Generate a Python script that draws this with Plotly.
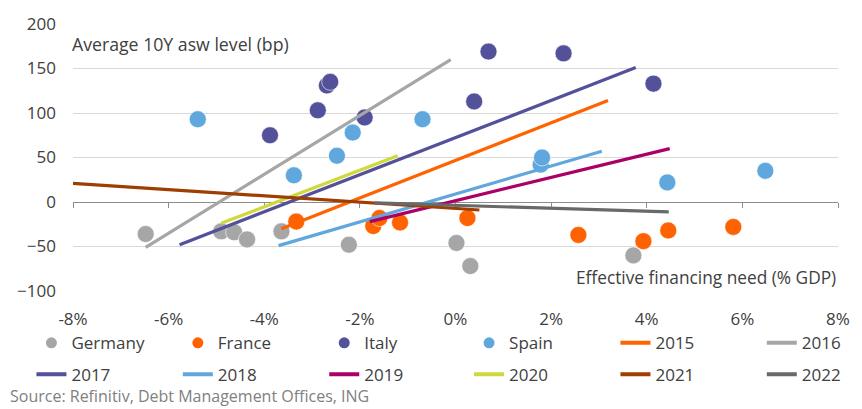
import plotly.graph_objects as go

# ---- data ----
germany_x = [-6.48, -4.90, -4.63, -4.36, -3.64, -2.23, 0.02, 0.31, 3.72]
germany_y = [-36, -33, -34, -42, -33, -48, -46, -72, -60]

france_x = [-3.33, -1.72, -1.59, -1.16, 0.25, 2.57, 3.93, 4.45, 5.81]
france_y = [-22, -27, -18, -23, -18, -37, -44, -32, -28]

italy_x = [-3.88, -2.88, -2.69, -2.62, -1.90, 0.39, 0.69, 2.26, 4.14]
italy_y = [75, 103, 131, 135, 95, 113, 169, 167, 133]

spain_x = [-5.39, -3.38, -2.48, -2.15, -0.69, 1.78, 1.81, 4.43, 6.48]
spain_y = [93, 30, 52, 78, 93, 42, 50, 22, 35]

years = ["2015", "2016", "2017", "2018", "2019", "2020", "2021", "2022"]
line_x_start = [-3.64, -6.48, -5.77, -3.70, -1.79, -4.90, -8.00, -1.69]
line_y_start = [-30, -51, -48, -49, -22, -24, 21, -1]
line_x_end = [3.19, -0.10, 3.77, 3.06, 4.48, -1.21, 0.50, 4.46]
line_y_end = [114, 160, 151, 57, 60, 52, -9, -11]

x_ticks = [-8, -6, -4, -2, 0, 2, 4, 6, 8]
x_tick_labels = ["-8%", "-6%", "-4%", "-2%", "0%", "2%", "4%", "6%", "8%"]
y_ticks = [-100, -50, 0, 50, 100, 150, 200]

country_names = ["Germany", "France", "Italy", "Spain"]
country_colors = ["#A6A6A6", "#FF6200", "#525199", "#5FA7DC"]
year_colors = ["#FF6200", "#A6A6A6", "#525199", "#5FA7DC", "#AB0066", "#D0D93C", "#9E3E00", "#696969"]

# ---- layout geometry ----
W, H = 862, 409
ML, MR, MT, MB = 73, 16, 20, 118
PW, PH = W - ML - MR, H - MT - MB
x_range = [-8, 8]
y_range = [-100, 200]

def px_x(p):
    return (p - ML) / PW

def px_y(p):
    return (H - MB - p) / PH

FONT = "Open Sans"
TXT = "#404040"

fig = go.Figure()

country_data = [(germany_x, germany_y), (france_x, france_y), (italy_x, italy_y), (spain_x, spain_y)]
for name, col, (xs, ys) in zip(country_names, country_colors, country_data):
    fig.add_trace(go.Scatter(
        x=xs, y=ys, mode="markers", name=name, showlegend=False,
        marker=dict(size=17, color=col, line=dict(width=0.6, color="white")),
    ))

for yr, col, x0, y0, x1, y1 in zip(years, year_colors, line_x_start, line_y_start, line_x_end, line_y_end):
    fig.add_trace(go.Scatter(
        x=[x0, x1], y=[y0, y1], mode="lines", name=yr, showlegend=False,
        line=dict(color=col, width=3.2),
    ))

# legend: 2 rows x 6 columns; each row split into columns 1-3, 4-5 and 6
COL_STEP = 146.4
LX0 = 31
ROW1, ROW2 = 344, 376
col_groups = [(0, 3), (3, 5), (5, 6)]
group_nudge = [0, 3, 6]
legend_entries = [("marker", n, c) for n, c in zip(country_names, country_colors)] + \
                 [("line", y, c) for y, c in zip(years, year_colors)]

legend_layout = {}
for k, (kind, name, col) in enumerate(legend_entries):
    row, column = divmod(k, 6)
    group = next(g for g, (a, b) in enumerate(col_groups) if a <= column < b)
    lid = "legend" if (row == 0 and group == 0) else f"legend{row * 3 + group + 1}"
    if lid not in legend_layout:
        first_col = col_groups[group][0]
        last = group == len(col_groups) - 1
        legend_layout[lid] = dict(
            orientation="h", entrywidth=42 if last else COL_STEP - 45, entrywidthmode="pixels",
            font=dict(family=FONT, size=17, color=TXT),
            bgcolor="rgba(0,0,0,0)", xanchor="left", yanchor="middle",
            itemclick=False, itemdoubleclick=False,
            x=px_x(LX0 + first_col * COL_STEP + group_nudge[group]),
            y=px_y(ROW1 if row == 0 else ROW2),
        )
    if kind == "marker":
        fig.add_trace(go.Scatter(x=[None], y=[None], mode="markers", name=name,
                                 marker=dict(size=11, color=col), legend=lid))
    else:
        fig.add_trace(go.Scatter(x=[None], y=[None], mode="lines", name=name,
                                 line=dict(color=col, width=4), legend=lid))

# invisible trace on the zero-line axis so it is drawn
fig.add_trace(go.Scatter(x=x_range, y=[None, None], xaxis="x2", mode="lines",
                         showlegend=False, hoverinfo="skip"))

zero_pos = (0 - y_range[0]) / (y_range[1] - y_range[0])

fig.update_layout(
    width=W, height=H,
    margin=dict(l=ML, r=MR, t=MT, b=MB),
    paper_bgcolor="white", plot_bgcolor="white",
    font=dict(family=FONT, size=17, color=TXT),
    xaxis=dict(range=x_range, tickvals=x_ticks, ticktext=x_tick_labels,
               showgrid=False, zeroline=False, showline=False, ticks="",
               ticklabelstandoff=16, tickfont=dict(size=17, color=TXT)),
    xaxis2=dict(range=x_range, overlaying="x", anchor="free", position=zero_pos,
                side="bottom", tickvals=x_ticks, showticklabels=False,
                showline=True, linecolor="#8C8C8C", linewidth=1.3,
                ticks="outside", ticklen=5, tickcolor="#8C8C8C", tickwidth=1.3,
                showgrid=False, zeroline=False, layer="below traces"),
    yaxis=dict(range=y_range, tickvals=y_ticks, showgrid=True, gridcolor="#D9D9D9",
               gridwidth=1.3, zeroline=False, showline=False, ticks="",
               ticklabelstandoff=16, tickfont=dict(size=17, color=TXT)),
    annotations=[
        dict(text="Average 10Y asw level (bp)", xref="paper", yref="paper",
             x=px_x(70), y=px_y(40), xanchor="left", yanchor="middle", showarrow=False,
             font=dict(family=FONT, size=17.7, color=TXT)),
        dict(text="Effective financing need (% GDP)", xref="paper", yref="paper",
             x=px_x(846), y=px_y(277), xanchor="right", yanchor="middle", showarrow=False,
             font=dict(family=FONT, size=17.3, color=TXT)),
        dict(text="Source: Refinitiv, Debt Management Offices, ING", xref="paper", yref="paper",
             x=px_x(7), y=px_y(398), xanchor="left", yanchor="middle", showarrow=False,
             font=dict(family=FONT, size=16, color="#808080")),
    ],
)
fig.update_layout(**legend_layout)

fig.write_html("out.html")
